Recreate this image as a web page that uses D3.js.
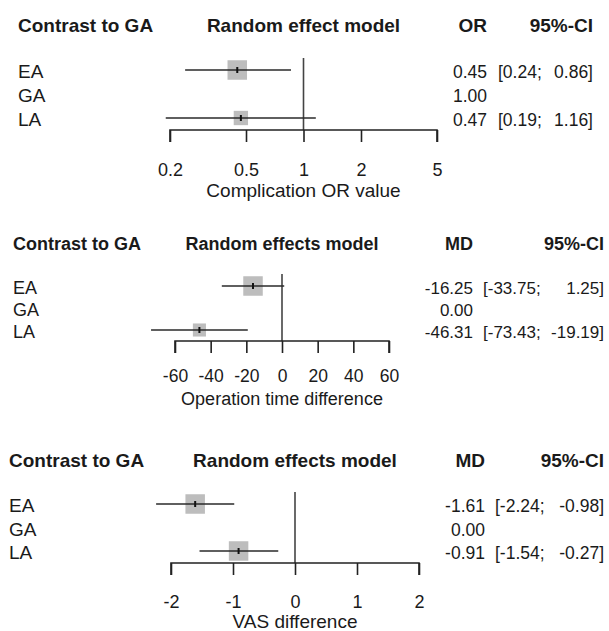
<!DOCTYPE html>
<html>
<head>
<meta charset="utf-8">
<script src="https://cdn.jsdelivr.net/npm/d3@7"></script>
<style>
  body { margin: 0; background: #fff; }
  text { font-family: "Liberation Sans", Arial, sans-serif; fill: #1a1a1a; }
</style>
</head>
<body>
<div id="chart"></div>
<script>
const WIDTH = 609, HEIGHT = 631;

// data
const TREATMENTS = ["EA", "GA", "LA"];

// complication, odds ratio
const OR_EST = [0.45, 1.00, 0.47];
const OR_LOW = [0.24, null, 0.19];
const OR_UP = [0.86, null, 1.16];
const OR_WEIGHT = [1, null, 0.54];
const OR_TICKS = [0.2, 0.5, 1, 2, 5];

// operation time, mean difference
const OT_EST = [-16.25, 0.00, -46.31];
const OT_LOW = [-33.75, null, -73.43];
const OT_UP = [1.25, null, -19.19];
const OT_WEIGHT = [1, null, 0.45];
const OT_TICKS = [-60, -40, -20, 0, 20, 40, 60];

// VAS, mean difference
const VAS_EST = [-1.61, 0.00, -0.91];
const VAS_LOW = [-2.24, null, -1.54];
const VAS_UP = [-0.98, null, -0.27];
const VAS_WEIGHT = [1, null, 1];
const VAS_TICKS = [-2, -1, 0, 1, 2];

const svg = d3.select("#chart").append("svg")
  .attr("width", WIDTH)
  .attr("height", HEIGHT);

svg.append("rect").attr("width", WIDTH).attr("height", HEIGHT).attr("fill", "#fff");

const SQUARE = d3.scaleSqrt().domain([0, 1]).range([0, 19.5]);

// one forest panel
function forest(p) {
  const g = svg.append("g");
  const fs = p.fs;

  const x = (p.log ? d3.scaleLog() : d3.scaleLinear())
    .domain(p.domain)
    .range(p.xRange);
  const y = d3.scalePoint().domain(TREATMENTS).range(p.yRange);

  // headers
  g.append("text").attr("x", p.labelX).attr("y", p.headY)
    .attr("font-weight", "bold").attr("font-size", fs).text("Contrast to GA");
  g.append("text").attr("x", (p.xRange[0] + p.xRange[1]) / 2).attr("y", p.headY)
    .attr("font-weight", "bold").attr("font-size", fs).attr("text-anchor", "middle")
    .text(p.model);
  g.append("text").attr("x", p.estX).attr("y", p.headY)
    .attr("font-weight", "bold").attr("font-size", fs).attr("text-anchor", "end")
    .text(p.measure);
  g.append("text").attr("x", p.ciEnd).attr("y", p.headY)
    .attr("font-weight", "bold").attr("font-size", fs).attr("text-anchor", "end")
    .text("95%-CI");

  // row labels
  g.selectAll(".lab").data(TREATMENTS).enter().append("text")
    .attr("x", p.labelX)
    .attr("y", d => y(d) + 8)
    .attr("font-size", fs)
    .text(d => d);

  // reference line
  g.append("line")
    .attr("x1", x(p.ref)).attr("x2", x(p.ref))
    .attr("y1", p.yRange[0] - 12).attr("y2", p.axisY)
    .attr("stroke", "#444").attr("stroke-width", 1.6);

  const rows = TREATMENTS.map((t, i) => ({
    t: t, est: p.est[i], low: p.low[i], up: p.up[i], w: p.weight[i]
  }));
  const withCI = rows.filter(d => d.low != null);

  // squares
  g.selectAll(".sq").data(withCI).enter().append("rect")
    .attr("x", d => x(d.est) - SQUARE(d.w) / 2)
    .attr("y", d => y(d.t) - SQUARE(d.w) / 2)
    .attr("width", d => SQUARE(d.w))
    .attr("height", d => SQUARE(d.w))
    .attr("fill", "#bdbdbd");

  // CI lines
  g.selectAll(".ci").data(withCI).enter().append("line")
    .attr("x1", d => x(d.low)).attr("x2", d => x(d.up))
    .attr("y1", d => y(d.t)).attr("y2", d => y(d.t))
    .attr("stroke", "#2a2a2a").attr("stroke-width", 1.6);

  // point estimate tick
  g.selectAll(".pt").data(withCI).enter().append("line")
    .attr("x1", d => x(d.est)).attr("x2", d => x(d.est))
    .attr("y1", d => y(d.t) - 3).attr("y2", d => y(d.t) + 3)
    .attr("stroke", "#111").attr("stroke-width", 2);

  // axis
  const axis = g.append("g")
    .attr("transform", "translate(0," + p.axisY + ")")
    .call(d3.axisBottom(x).tickValues(p.ticks).tickSize(12).tickPadding(p.tickPad)
      .tickFormat(d => String(d).replace("-", "-")));
  axis.select(".domain").attr("stroke", "#222").attr("stroke-width", 1.6)
    .attr("d", "M" + p.xRange[0] + ",12V0H" + p.xRange[1] + "V12");
  axis.selectAll(".tick line").attr("stroke", "#222").attr("stroke-width", 1.6);
  axis.selectAll(".tick text").attr("font-size", p.tfs).attr("fill", "#1a1a1a")
    .attr("font-family", "Liberation Sans, Arial, sans-serif");

  g.append("text").attr("x", (p.xRange[0] + p.xRange[1]) / 2).attr("y", p.xlabY)
    .attr("font-size", fs).attr("text-anchor", "middle").text(p.xlab);

  // estimates and CIs
  g.selectAll(".est").data(rows).enter().append("text")
    .attr("x", p.estX).attr("y", d => y(d.t) + 8)
    .attr("font-size", p.vfs).attr("text-anchor", "end")
    .text(d => d.est.toFixed(2));
  g.selectAll(".cil").data(withCI).enter().append("text")
    .attr("x", p.ciStart).attr("y", d => y(d.t) + 8)
    .attr("font-size", p.vfs)
    .text(d => "[" + d.low.toFixed(2) + ";");
  g.selectAll(".ciu").data(withCI).enter().append("text")
    .attr("x", p.ciEnd).attr("y", d => y(d.t) + 8)
    .attr("font-size", p.vfs).attr("text-anchor", "end")
    .text(d => d.up.toFixed(2) + "]");
}

forest({
  log: true, domain: [0.2, 5], ticks: OR_TICKS, ref: 1,
  est: OR_EST, low: OR_LOW, up: OR_UP, weight: OR_WEIGHT,
  model: "Random effect model", measure: "OR", xlab: "Complication OR value",
  fs: 19, vfs: 17.5, tfs: 18, tickPad: 21,
  labelX: 18, headY: 32, yRange: [70, 118], axisY: 130, xRange: [170, 437],
  xlabY: 197, estX: 487, ciStart: 498, ciEnd: 593
});

forest({
  log: false, domain: [-60, 60], ticks: OT_TICKS, ref: 0,
  est: OT_EST, low: OT_LOW, up: OT_UP, weight: OT_WEIGHT,
  model: "Random effects model", measure: "MD", xlab: "Operation time difference",
  fs: 18, vfs: 17, tfs: 17.5, tickPad: 17,
  labelX: 13, headY: 250, yRange: [286, 330], axisY: 341, xRange: [175, 389],
  xlabY: 405, estX: 473, ciStart: 483, ciEnd: 604
});

forest({
  log: false, domain: [-2, 2], ticks: VAS_TICKS, ref: 0,
  est: VAS_EST, low: VAS_LOW, up: VAS_UP, weight: VAS_WEIGHT,
  model: "Random effects model", measure: "MD", xlab: "VAS difference",
  fs: 19, vfs: 17.5, tfs: 18, tickPad: 20,
  labelX: 9, headY: 467, yRange: [504, 551], axisY: 563, xRange: [171, 419],
  xlabY: 628, estX: 485, ciStart: 495, ciEnd: 604
});
</script>
</body>
</html>
